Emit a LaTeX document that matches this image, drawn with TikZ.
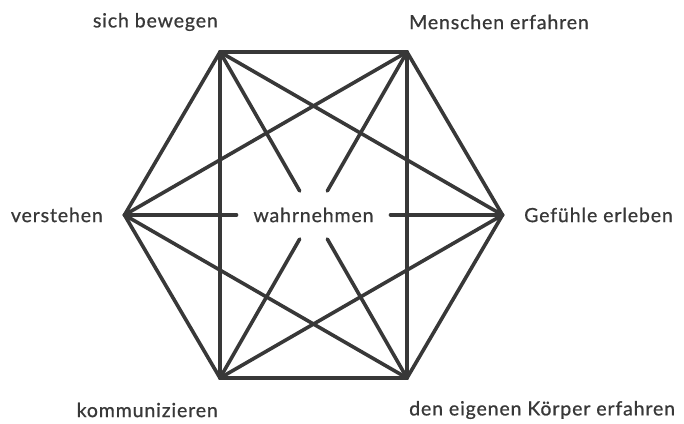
\documentclass[tikz,border=0pt]{standalone}
\usepackage{fontspec}
\newfontfamily\diafont[LetterSpace=4.5, FakeBold=0.8]{Lato}
\usetikzlibrary{positioning}

\begin{document}
\begin{tikzpicture}[
        x=1pt, y=1pt,
        edge/.style={line width=3.6pt, draw=black!78, line cap=round, line join=miter},
        label/.style={font=\diafont\fontsize{19.5}{22}\selectfont, text=black!78, inner sep=0pt},
        center/.style={font=\diafont\fontsize{19.5}{22}\selectfont, text=black!78, inner sep=0pt}
    ]
        \useasboundingbox (0,0) rectangle (684,423);

        % Vertices of the hexagon
        \coordinate (tl) at (220, 371);
        \coordinate (tr) at (407, 371);
        \coordinate (r) at (502.5, 208);
        \coordinate (br) at (407, 45);
        \coordinate (bl) at (220, 45);
        \coordinate (l) at (124.5, 208);

        % Center label and gaps around it
        \node[center] (wahr) at (313.5, 208) {wahrnehmen};
        \coordinate (gl) at (236.5, 208);
        \coordinate (gr) at (390.5, 208);
        \coordinate (gtl) at (299.7, 232);
        \coordinate (gtr) at (327.3, 232);
        \coordinate (gbl) at (299.7, 184);
        \coordinate (gbr) at (327.3, 184);

        % Outer labels
        \node[label, anchor=east] (bewegen) at (218, 401) {sich bewegen};
        \node[label, anchor=west] (menschen) at (409, 401) {Menschen erfahren};
        \node[label, anchor=east] (verstehen) at (103, 208) {verstehen};
        \node[label, anchor=west] (gefuehle) at (524, 208) {Gefühle erleben};
        \node[label, anchor=east] (komm) at (218, 13) {kommunizieren};
        \node[label, anchor=west] (koerper) at (409, 13) {den eigenen Körper erfahren};

        % Hexagon
        \draw[edge] (tl) -- (tr) -- (r) -- (br) -- (bl) -- (l) -- cycle;

        % Short diagonals
        \draw[edge] (tl) -- (bl);
        \draw[edge] (tr) -- (br);
        \draw[edge] (tl) -- (r);
        \draw[edge] (tr) -- (l);
        \draw[edge] (bl) -- (r);
        \draw[edge] (br) -- (l);

        % Long diagonals, broken at the center
        \draw[edge] (l) -- (gl);
        \draw[edge] (gr) -- (r);
        \draw[edge] (tl) -- (gtl);
        \draw[edge] (tr) -- (gtr);
        \draw[edge] (bl) -- (gbl);
        \draw[edge] (br) -- (gbr);

    \end{tikzpicture}
\end{document}
